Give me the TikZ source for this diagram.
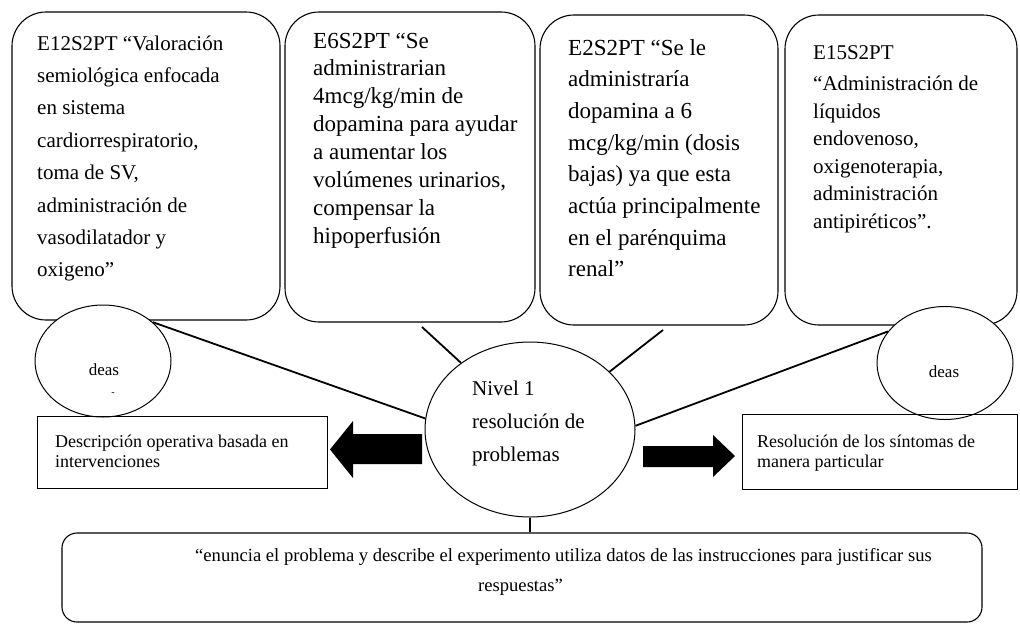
\documentclass[tikz,border=0pt]{standalone}
\usepackage{fontspec}
\setmainfont{Liberation Serif}
\usetikzlibrary{shapes.geometric}
\newcommand{\mylines}[1]{\begin{tabular}[t]{@{}l@{}}#1\end{tabular}}
\tikzset{
  quotebox/.style={draw, rounded corners=34pt, line width=1.1pt, inner sep=0pt},
  idea/.style={draw, ellipse, fill=white, line width=1pt, inner sep=0pt},
  plainbox/.style={draw, line width=1pt, inner sep=0pt},
  link/.style={line width=1.8pt},
  blocktip/.style={fill=black},
  txt/.style={inner sep=0pt, anchor=base west},
}
\begin{document}
\begin{tikzpicture}[x=1pt,y=-1pt]
\useasboundingbox (0,0) rectangle (1020,625);
% top boxes
\node[quotebox, minimum width=268pt, minimum height=308pt] (b1) at (146,166) {};
\node[quotebox, minimum width=250pt, minimum height=310pt] (b2) at (410,167) {};
\node[quotebox, minimum width=238pt, minimum height=310pt] (b3) at (659,170) {};
\node[quotebox, minimum width=232pt, minimum height=310pt] (b4) at (901,170) {};
\node[txt, font=\fontsize{21}{32.4}\selectfont] (t1) at (37,50) {\mylines{E12S2PT “Valoración\\semiológica enfocada\\en sistema\\cardiorrespiratorio,\\toma de SV,\\administración de\\vasodilatador y\\oxigeno”}};
\node[txt, font=\fontsize{23}{27.9}\selectfont] (t2) at (313,48) {\mylines{E6S2PT “Se\\administrarian\\4mcg/kg/min de\\dopamina para ayudar\\a aumentar los\\volúmenes urinarios,\\compensar la\\hipoperfusión}};
\node[txt, font=\fontsize{23}{31.7}\selectfont] (t3) at (568,55) {\mylines{E2S2PT “Se le\\administraría\\dopamina a 6\\mcg/kg/min (dosis\\bajas) ya que esta\\actúa principalmente\\en el parénquima\\renal”}};
\node[txt, font=\fontsize{21}{27.5}\selectfont] (t4) at (813,59) {\mylines{E15S2PT\\[4pt]“Administración de\\líquidos\\endovenoso,\\oxigenoterapia,\\administración\\antipiréticos”.}};
% idea ellipses
\node[idea, minimum width=136pt, minimum height=112pt] (L) at (103,361) {};
\node[inner sep=0pt, anchor=base, font=\fontsize{17}{20}\selectfont] (Lt) at (104,375) {deas};
\node[inner sep=0pt, font=\fontsize{10}{12}\selectfont] (Ld) at (113,394) {-};
\node[idea, minimum width=136pt, minimum height=113pt] (R) at (945,363) {};
\node[inner sep=0pt, anchor=base, font=\fontsize{17}{20}\selectfont] (Rt) at (944,377) {deas};
% lower rectangles
\node[plainbox, minimum width=290pt, minimum height=72pt] (D) at (182,452) {};
\node[txt, font=\fontsize{18}{20}\selectfont] (Dt) at (55,447) {\mylines{Descripción operativa basada en\\intervenciones}};
\node[plainbox, minimum width=275pt, minimum height=75pt] (S) at (879.5,451.5) {};
\node[txt, font=\fontsize{18}{20}\selectfont] (St) at (757,447) {\mylines{Resolución de los síntomas de\\manera particular}};
% bottom box
\node[draw, rounded corners=15pt, line width=1.1pt, inner sep=0pt, minimum width=920pt, minimum height=89pt] (B) at (522,577.5) {};
\node[txt, font=\fontsize{18.6}{20}\selectfont] (Bt1) at (195,561) {“enuncia el problema y describe el experimento utiliza datos de las instrucciones para justificar sus};
\node[txt, font=\fontsize{18.6}{20}\selectfont] (Bt2) at (478,591) {respuestas”};
% centre ellipse
\node[idea, minimum width=210pt, minimum height=175pt] (C) at (530,429.5) {};
\node[txt, font=\fontsize{21}{33}\selectfont] (Ct) at (472,395) {\mylines{Nivel 1\\resolución de\\problemas}};
% connectors
\coordinate (b2e) at (422,327);
\coordinate (b3e) at (663,330);
\draw[link] (L.38) -- (C.174);
\draw[link] (b2e) -- (C.136);
\draw[link] (b3e) -- (C.36);
\draw[link] (C.2) -- (R.151);
\draw[link] (C.south) -- (C.south |- B.north);
% block arrows
\fill[blocktip] (330,449.5) -- (353,421) -- (353,434) -- (422,434) -- (422,464) -- (353,464) -- (353,478) -- cycle;
\fill[blocktip] (735,456) -- (713,435) -- (713,446) -- (643,446) -- (643,467) -- (713,467) -- (713,477) -- cycle;
\end{tikzpicture}
\end{document}
